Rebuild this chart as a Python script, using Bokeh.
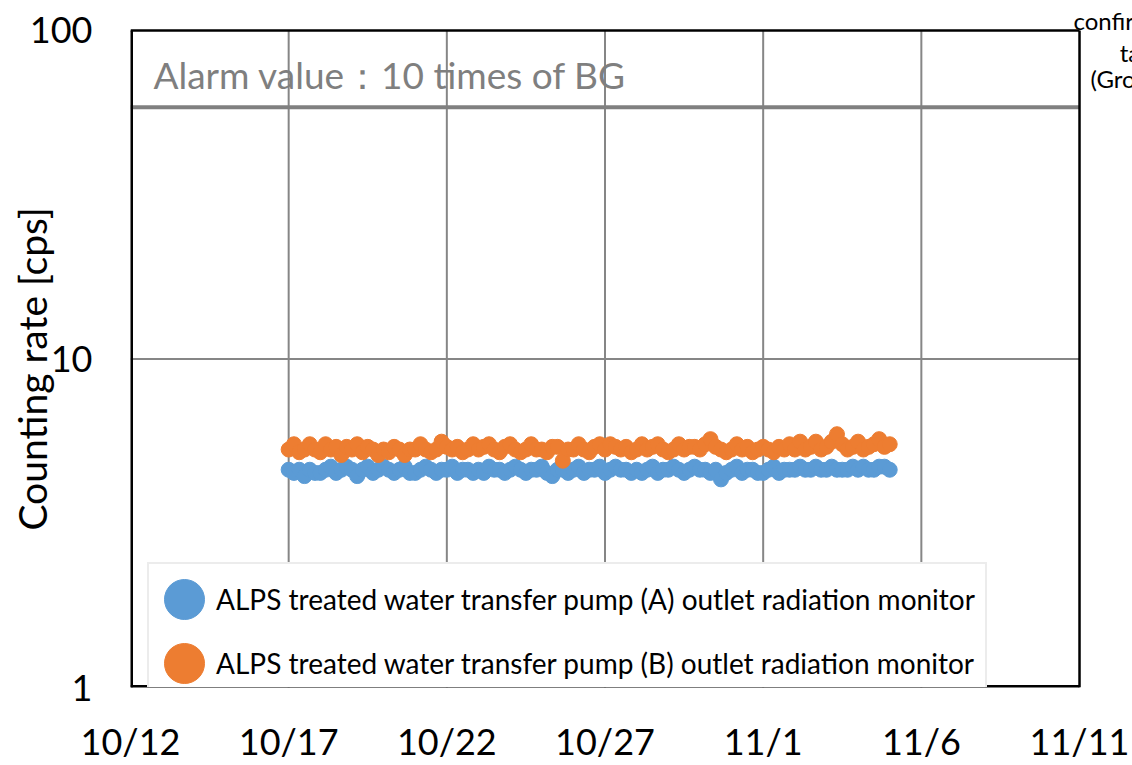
import pandas as pd
from bokeh.plotting import figure
from bokeh.models import FixedTicker, Label, Legend, LegendItem, Range1d
from bokeh.embed import file_html
from bokeh.resources import INLINE

# ---------------- data ----------------
start_time = "2023-10-17 00:00"
step_hours = 4

pump_a = [
    4.6, 4.5, 4.6, 4.4, 4.6, 4.5,   # 10/17
    4.5, 4.6, 4.7, 4.5, 4.6, 4.7,   # 10/18
    4.6, 4.4, 4.6, 4.7, 4.5, 4.6,   # 10/19
    4.7, 4.6, 4.5, 4.6, 4.7, 4.5,   # 10/20
    4.5, 4.6, 4.7, 4.6, 4.5, 4.6,   # 10/21
    4.6, 4.7, 4.5, 4.6, 4.6, 4.5,   # 10/22
    4.6, 4.5, 4.7, 4.6, 4.6, 4.5,   # 10/23
    4.6, 4.7, 4.6, 4.5, 4.6, 4.6,   # 10/24
    4.7, 4.5, 4.4, 4.6, 4.6, 4.5,   # 10/25
    4.6, 4.7, 4.5, 4.6, 4.6, 4.7,   # 10/26
    4.5, 4.6, 4.7, 4.6, 4.6, 4.5,   # 10/27
    4.6, 4.5, 4.6, 4.7, 4.5, 4.6,   # 10/28
    4.6, 4.7, 4.6, 4.5, 4.6, 4.7,   # 10/29
    4.6, 4.6, 4.5, 4.6, 4.3, 4.5,   # 10/30
    4.6, 4.7, 4.5, 4.6, 4.6, 4.5,   # 10/31
    4.5, 4.6, 4.7, 4.5, 4.6, 4.6,   # 11/1
    4.6, 4.7, 4.6, 4.6, 4.7, 4.6,   # 11/2
    4.6, 4.7, 4.6, 4.6, 4.6, 4.7,   # 11/3
    4.6, 4.7, 4.6, 4.6, 4.7, 4.7,   # 11/4
    4.6,                            # 11/5
]

pump_b = [
    5.3, 5.5, 5.2, 5.3, 5.5, 5.3,   # 10/17
    5.2, 5.5, 5.3, 5.4, 5.1, 5.4,   # 10/18
    5.3, 5.5, 5.2, 5.4, 5.3, 5.1,   # 10/19
    5.3, 5.2, 5.4, 5.3, 5.1, 5.3,   # 10/20
    5.3, 5.5, 5.3, 5.2, 5.3, 5.6,   # 10/21
    5.4, 5.3, 5.4, 5.2, 5.3, 5.5,   # 10/22
    5.3, 5.4, 5.5, 5.3, 5.2, 5.4,   # 10/23
    5.5, 5.3, 5.2, 5.3, 5.5, 5.3,   # 10/24
    5.3, 5.2, 5.4, 5.4, 4.9, 5.3,   # 10/25
    5.3, 5.5, 5.3, 5.2, 5.4, 5.5,   # 10/26
    5.3, 5.5, 5.4, 5.3, 5.4, 5.2,   # 10/27
    5.3, 5.5, 5.3, 5.4, 5.5, 5.3,   # 10/28
    5.2, 5.3, 5.5, 5.3, 5.4, 5.4,   # 10/29
    5.3, 5.5, 5.7, 5.4, 5.3, 5.2,   # 10/30
    5.3, 5.5, 5.3, 5.4, 5.2, 5.3,   # 10/31
    5.4, 5.3, 5.2, 5.4, 5.3, 5.5,   # 11/1
    5.3, 5.6, 5.3, 5.4, 5.6, 5.3,   # 11/2
    5.4, 5.6, 5.9, 5.5, 5.3, 5.4,   # 11/3
    5.6, 5.3, 5.4, 5.5, 5.7, 5.4,   # 11/4
    5.5,                            # 11/5
]

series_names = [
    "ALPS treated water transfer pump (A) outlet radiation monitor",
    "ALPS treated water transfer pump (B) outlet radiation monitor",
]
alarm_value = 58.4
alarm_text = "Alarm value\uff1a10 times of BG"
corner_lines = ["confirmation", "tank", "(Group C)"]

x_start, x_end = "2023-10-12", "2023-11-11"
tick_dates = ["2023-10-12", "2023-10-17", "2023-10-22", "2023-10-27",
              "2023-11-01", "2023-11-06", "2023-11-11"]
tick_labels = ["10/12", "10/17", "10/22", "10/27", "11/1", "11/6", "11/11"]
y_ticks = [1, 10, 100]
y_tick_labels = ["1", "10", "100"]

# ---------------- styling ----------------
BLUE = "#5B9BD5"
ORANGE = "#ED7D31"
GRID = "#868686"
FONT = "Lato"
X_PAD_DAYS = 1.675        # canvas room right of the plot box (for the cut-off note)
Y_TOP = 123.3             # canvas room above the plot box

def ms(t):
    return pd.Timestamp(t).value // 10**6

t0 = pd.Timestamp(x_start)
t1 = pd.Timestamp(x_end)
x0_ms, x1_ms = ms(t0), ms(t1)
y_lo, y_hi = y_ticks[0], y_ticks[-1]

times = pd.date_range(start_time, periods=len(pump_a), freq=f"{step_hours}h")

p = figure(width=1132, height=765, x_axis_type="datetime", y_axis_type="log",
           x_range=Range1d(x0_ms, ms(t1 + pd.Timedelta(days=X_PAD_DAYS))),
           y_range=Range1d(y_lo, Y_TOP),
           output_backend="svg", toolbar_location=None,
           min_border_left=130, min_border_right=0,
           min_border_top=0, min_border_bottom=75)

p.background_fill_color = "white"
p.border_fill_color = "white"
p.outline_line_color = None
p.xgrid.grid_line_color = None
p.ygrid.grid_line_color = None

tick_ms = [ms(t) for t in tick_dates]
p.xaxis.ticker = FixedTicker(ticks=tick_ms)
p.xaxis.major_label_overrides = {t: l for t, l in zip(tick_ms, tick_labels)}
p.yaxis.ticker = FixedTicker(ticks=y_ticks)
p.yaxis.major_label_overrides = {t: l for t, l in zip(y_ticks, y_tick_labels)}

for ax in (p.xaxis[0], p.yaxis[0]):
    ax.axis_line_color = None
    ax.major_tick_line_color = None
    ax.minor_tick_line_color = None
    ax.major_tick_in = 0
    ax.major_tick_out = 0
    ax.minor_tick_in = 0
    ax.minor_tick_out = 0
    ax.major_label_text_font = FONT
    ax.major_label_text_font_size = "36px"
    ax.major_label_text_color = "black"

p.xaxis.major_label_standoff = 31
p.yaxis.major_label_standoff = 38
p.yaxis.axis_label = "Counting rate [cps]" + "\u00a0" * 5
p.yaxis.axis_label_text_font = FONT
p.yaxis.axis_label_text_font_size = "39px"
p.yaxis.axis_label_text_font_style = "normal"
p.yaxis.axis_label_text_color = "black"
p.yaxis.axis_label_standoff = -28

# grid lines (stop at the plot box)
inner_x = tick_ms[1:-1]
p.segment(x0=inner_x, y0=[y_lo] * len(inner_x), x1=inner_x, y1=[y_hi] * len(inner_x),
          line_color=GRID, line_width=2)
inner_y = y_ticks[1:-1]
p.segment(x0=[x0_ms] * len(inner_y), y0=inner_y, x1=[x1_ms] * len(inner_y), y1=inner_y,
          line_color=GRID, line_width=2)

# alarm level
p.segment(x0=[x0_ms], y0=[alarm_value], x1=[x1_ms], y1=[alarm_value],
          line_color="#808080", line_width=4)

r_a = p.scatter(times, pump_a, size=15, color=BLUE, line_color=BLUE)
r_b = p.scatter(times, pump_b, size=15, color=ORANGE, line_color=ORANGE)

# plot box border
p.segment(x0=[x0_ms, x0_ms], y0=[y_lo, y_lo], x1=[x0_ms, x1_ms], y1=[y_hi, y_lo],
          line_color="black", line_width=5)
p.segment(x0=[x0_ms, x1_ms], y0=[y_hi, y_lo], x1=[x1_ms, x1_ms], y1=[y_hi, y_hi],
          line_color="black", line_width=2.5)

# legend swatches: large dots (one NaN point, nothing drawn in the plot)
s_a = p.ellipse(x=[times[0]], y=[float("nan")], width=40, height=40,
                width_units="screen", height_units="screen", color=BLUE)
s_b = p.ellipse(x=[times[0]], y=[float("nan")], width=40, height=40,
                width_units="screen", height_units="screen", color=ORANGE)

legend = Legend(items=[LegendItem(label=series_names[0], renderers=[r_a, s_a]),
                       LegendItem(label=series_names[1], renderers=[r_b, s_b])],
                location=(17, -13), orientation="vertical",
                glyph_width=50, glyph_height=50, label_height=34,
                spacing=14, padding=10, label_standoff=7,
                border_line_color="#d9d9d9", border_line_width=2,
                background_fill_color="white", background_fill_alpha=1,
                label_text_font=FONT, label_text_font_size="28px",
                label_text_color="black")
p.add_layout(legend)

p.add_layout(Label(x=ms(t0 + pd.Timedelta(days=0.727)), y=73.6, text=alarm_text,
                   text_font=FONT, text_font_size="37px", text_color="#7f7f7f",
                   text_baseline="alphabetic"))

corner_pos = [(29.81, 107.2), (31.27, 85.8), (30.35, 71.2)]
for txt, (dx, yv) in zip(corner_lines, corner_pos):
    p.add_layout(Label(x=ms(t0 + pd.Timedelta(days=dx)), y=yv, text=txt,
                       text_font=FONT, text_font_size="24px", text_color="black",
                       text_baseline="alphabetic"))

open("out.html", "w").write(file_html(p, INLINE))
